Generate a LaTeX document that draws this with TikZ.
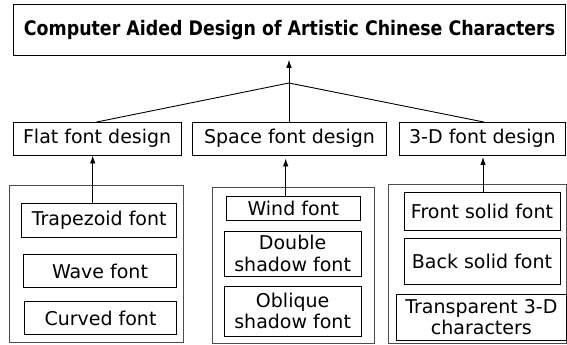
\documentclass[tikz,border=0pt]{standalone}
\usepackage{fontspec}
\usepackage{graphicx}
\setmainfont{DejaVu Sans}
\usetikzlibrary{arrows.meta}
\tikzset{
  box/.style={draw=black, line width=0.9pt, inner sep=0pt, align=center, font=\fontsize{19}{21.5}\selectfont},
  frame/.style={draw=black!70, line width=0.9pt, inner sep=0pt},
  conn/.style={draw=black, line width=0.9pt},
  arr/.style={conn, -{Latex[length=8pt,width=5.5pt]}},
}
\begin{document}
\begin{tikzpicture}[x=1pt,y=-1pt]
\useasboundingbox (0,0) rectangle (567,345);
% title
\node[box, minimum width=552.3pt, minimum height=51pt] (title) at (289.55,29.8)
  {\scalebox{0.87}[1]{\fontsize{20}{22}\selectfont\bfseries Computer Aided Design of Artistic Chinese Characters}};
% level 2
\node[box, minimum width=167.7pt, minimum height=32.5pt] (flat) at (97.15,138.75) {Flat font design};
\node[box, minimum width=194.4pt, minimum height=32.5pt] (space) at (289.5,138.75) {Space font design};
\node[box, minimum width=165.8pt, minimum height=32.5pt] (three) at (482.4,138.75) {3-D font design};
% frames
\node[frame, minimum width=174pt, minimum height=157pt] (fl) at (96,264) {};
\node[frame, minimum width=161.8pt, minimum height=155.7pt] (fm) at (293.4,265.15) {};
\node[frame, minimum width=177.5pt, minimum height=158.5pt] (fr) at (477.25,263.75) {};
% left inner
\node[box, minimum width=155pt, minimum height=34pt] (trap) at (99.2,220.3) {Trapezoid font};
\node[box, minimum width=153pt, minimum height=33.4pt] (wave) at (100,271) {Wave font};
\node[box, minimum width=152pt, minimum height=33pt] (curved) at (100.5,318) {Curved font};
% middle inner
\node[box, minimum width=134.7pt, minimum height=24pt] (wind) at (293.35,208.5) {Wind font};
\node[box, minimum width=136.7pt, minimum height=45pt] (double) at (292.65,253.5) {Double\\shadow font};
\node[box, minimum width=136.7pt, minimum height=50pt] (oblique) at (292.65,311) {Oblique\\shadow font};
% right inner
\node[box, minimum width=156pt, minimum height=38pt] (front) at (482,211) {Front solid font};
\node[box, minimum width=156pt, minimum height=45.5pt] (back) at (482,261.25) {Back solid font};
\node[box, minimum width=169.3pt, minimum height=45.7pt] (transp) at (481.35,317.15) {Transparent 3-D\\characters};
% connectors
\coordinate (j) at (289,83);
\draw[conn] ([xshift=-0.65pt]flat.north) -- (j) -- ([xshift=1.6pt]three.north);
\draw[conn] (space.north -| j) -- (j);
\draw[arr, shorten >=4pt] (j) -- (title.south -| j);
\draw[arr] ([xshift=-6.5pt]trap.north) -- ([xshift=-6.5pt]trap.north |- flat.south);
\draw[arr, shorten >=3pt] ([xshift=-7.65pt]wind.north) -- ([xshift=-7.65pt]wind.north |- space.south);
\draw[arr, shorten >=1.5pt] ([xshift=1pt]front.north) -- ([xshift=1pt]front.north |- three.south);
\end{tikzpicture}
\end{document}
